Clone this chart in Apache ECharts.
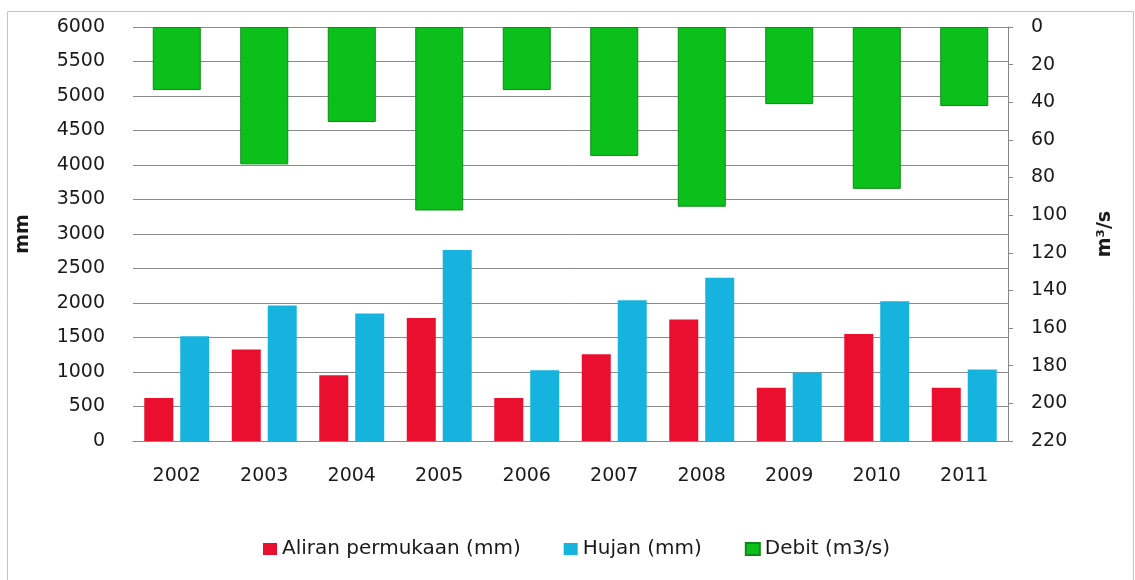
<!DOCTYPE html>
<html>
<head>
<meta charset="utf-8">
<script src="https://cdn.jsdelivr.net/npm/echarts@6/dist/echarts.min.js"></script>
<style>
html,body{margin:0;padding:0;background:#fff;}
#chart{width:1135px;height:580px;}
</style>
</head>
<body>
<div id="chart"></div>
<script>
const years = ['2002','2003','2004','2005','2006','2007','2008','2009','2010','2011'];
const aliranPermukaan = [622, 1325, 952, 1784, 622, 1257, 1761, 773, 1552, 773];
const hujan = [1518, 1964, 1848, 2768, 1024, 2041, 2366, 991, 2027, 1035];
const debit = [33.5, 73, 50.5, 97.5, 33.5, 68.5, 95.5, 41, 86, 42];
const seriesNames = ['Aliran permukaan (mm)', 'Hujan (mm)', 'Debit (m3/s)'];

const FONT = 'DejaVu Sans';
const chart = echarts.init(document.getElementById('chart'), null, {renderer: 'canvas'});
chart.setOption({
  animation: false,
  backgroundColor: '#ffffff',
  textStyle: {fontFamily: FONT, color: '#1a1a1a'},
  graphic: [{
    type: 'rect', silent: true, z: -1,
    shape: {x: 7.5, y: 11.5, width: 1126, height: 575},
    style: {fill: 'none', stroke: '#c4c4c4', lineWidth: 1}
  }],
  legend: {
    left: 258, top: 534,
    itemWidth: 14, itemHeight: 12, itemGap: 43,
    icon: 'rect',
    textStyle: {fontFamily: FONT, fontSize: 20, color: '#1a1a1a'},
    data: seriesNames
  },
  grid: {left: 133, right: 127, top: 27, height: 414},
  xAxis: [{
    type: 'category', data: years,
    axisLine: {show: true, lineStyle: {color: '#888888', width: 1}},
    axisTick: {show: false},
    axisLabel: {fontFamily: FONT, fontSize: 19, color: '#1a1a1a', margin: 26}
  }, {
    type: 'category', data: years, show: false
  }],
  yAxis: [{
    type: 'value', min: 0, max: 6000, interval: 500,
    name: 'mm', nameLocation: 'middle', nameGap: 100,
    nameTextStyle: {fontFamily: FONT, fontSize: 19, fontWeight: 'bold', color: '#1a1a1a'},
    axisLine: {show: false}, axisTick: {show: false},
    axisLabel: {fontFamily: FONT, fontSize: 19, color: '#1a1a1a', margin: 28,
      formatter: function (v) { return String(v); }},
    splitLine: {show: true, lineStyle: {color: '#8a8a8a', width: 1}}
  }, {
    type: 'value', min: 0, max: 220, interval: 20, inverse: true, position: 'right',
    name: 'm³/s', nameLocation: 'middle', nameGap: 88, nameRotate: 90,
    nameTextStyle: {fontFamily: FONT, fontSize: 19, fontWeight: 'bold', color: '#1a1a1a'},
    axisLine: {show: true, lineStyle: {color: '#888888', width: 1}},
    axisTick: {show: true, inside: false, length: 5, lineStyle: {color: '#888888'}},
    axisLabel: {fontFamily: FONT, fontSize: 19, color: '#1a1a1a', margin: 23,
      formatter: function (v) { return String(v); }},
    splitLine: {show: false}
  }],
  series: [{
    name: seriesNames[0], type: 'bar', xAxisIndex: 0, yAxisIndex: 0,
    data: aliranPermukaan, barWidth: 29, barGap: '24%',
    itemStyle: {color: '#ea0f2e'}
  }, {
    name: seriesNames[1], type: 'bar', xAxisIndex: 0, yAxisIndex: 0,
    data: hujan, barWidth: 29, barGap: '24%',
    itemStyle: {color: '#17b3df'}
  }, {
    name: seriesNames[2], type: 'bar', xAxisIndex: 1, yAxisIndex: 1,
    data: debit, barWidth: 48,
    itemStyle: {color: '#0cc01c', borderColor: '#0a8c15', borderWidth: 1}
  }]
});
</script>
</body>
</html>
